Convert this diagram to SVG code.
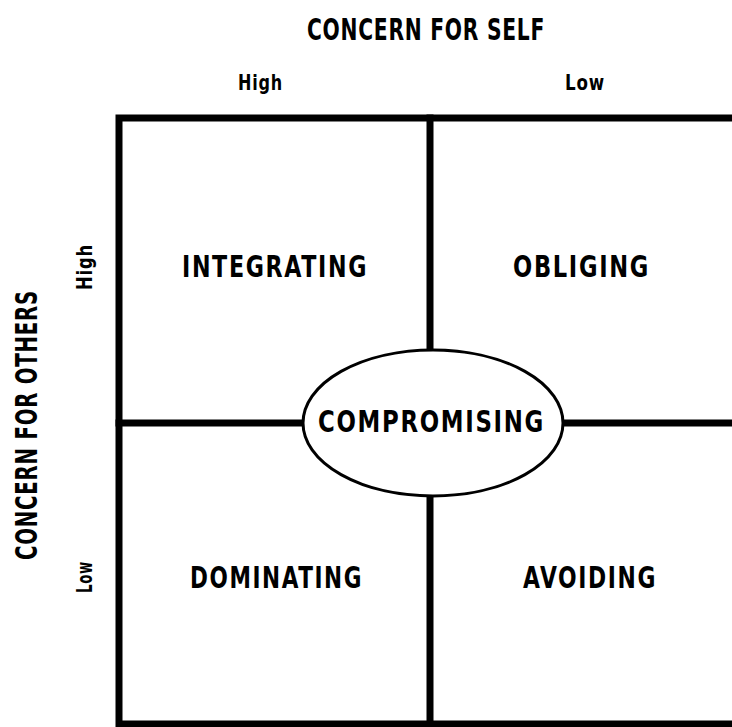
<svg xmlns="http://www.w3.org/2000/svg" width="732" height="727" viewBox="0 0 732 727">
  <style>
    .lbl { font-family: "DejaVu Sans Condensed", "DejaVu Sans", "Liberation Sans", sans-serif; font-weight: bold; font-stretch: condensed; fill: #000; }
    .big { font-size: 30px; letter-spacing: 2px; }
    .axis { font-size: 31px; letter-spacing: 1px; }
    .small { font-size: 22px; letter-spacing: 1px; }
    .rule { stroke: #000; stroke-width: 7; fill: none; stroke-linecap: square; }
  </style>
  <rect width="732" height="727" fill="#fff"/>

  <!-- axis titles and levels -->
  <g id="axis-self">
    <text class="lbl axis" x="307" y="40" textLength="238" lengthAdjust="spacingAndGlyphs">CONCERN FOR SELF</text>
    <text class="lbl small" x="238" y="90" textLength="45" lengthAdjust="spacingAndGlyphs">High</text>
    <text class="lbl small" x="565" y="90" textLength="40" lengthAdjust="spacingAndGlyphs">Low</text>
  </g>
  <g id="axis-others">
    <text class="lbl axis" transform="translate(37,560) rotate(-90)" x="0" y="0" textLength="270" lengthAdjust="spacingAndGlyphs">CONCERN FOR OTHERS</text>
    <text class="lbl small" transform="translate(92,290) rotate(-90)" x="0" y="0" textLength="46" lengthAdjust="spacingAndGlyphs">High</text>
    <text class="lbl small" transform="translate(92,593) rotate(-90)" x="0" y="0" textLength="32" lengthAdjust="spacingAndGlyphs">Low</text>
  </g>

  <!-- grid rules -->
  <g id="connectors">
    <path class="rule" d="M732 118 H119 V724 H732"/>
    <line class="rule" x1="430" y1="118" x2="430" y2="724"/>
    <line class="rule" x1="119" y1="423" x2="732" y2="423"/>
  </g>

  <!-- quadrants -->
  <g id="integrating">
    <text class="lbl big" x="182" y="277" textLength="186" lengthAdjust="spacingAndGlyphs">INTEGRATING</text>
  </g>
  <g id="obliging">
    <text class="lbl big" x="513" y="277" textLength="137" lengthAdjust="spacingAndGlyphs">OBLIGING</text>
  </g>
  <g id="dominating">
    <text class="lbl big" x="190" y="588" textLength="173" lengthAdjust="spacingAndGlyphs">DOMINATING</text>
  </g>
  <g id="avoiding">
    <text class="lbl big" x="523" y="588" textLength="134" lengthAdjust="spacingAndGlyphs">AVOIDING</text>
  </g>

  <!-- central style -->
  <g id="compromising">
    <ellipse cx="433" cy="423" rx="130" ry="73" fill="#fff" stroke="#000" stroke-width="3"/>
    <text class="lbl big" x="318" y="432" textLength="227" lengthAdjust="spacingAndGlyphs">COMPROMISING</text>
  </g>
</svg>
